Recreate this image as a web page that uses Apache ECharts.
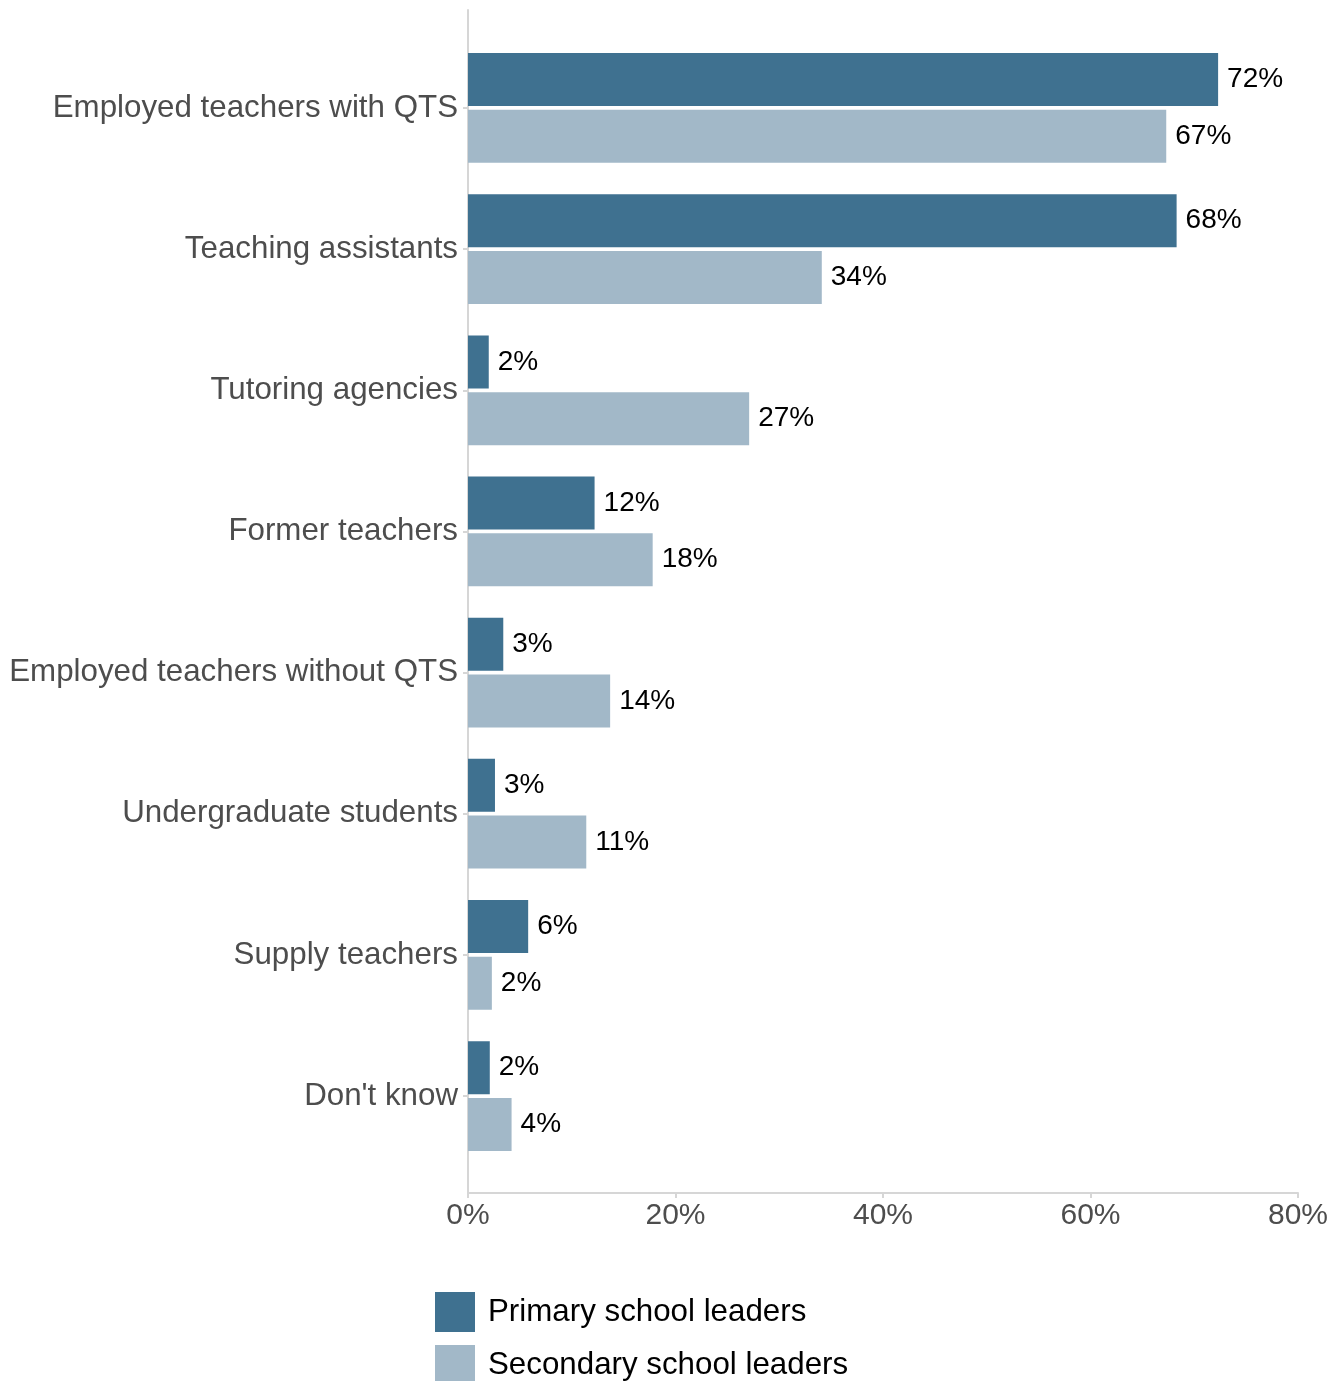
<!DOCTYPE html>
<html>
<head>
<meta charset="utf-8">
<title>Staff used to deliver tutoring</title>
<script src="https://cdn.jsdelivr.net/npm/echarts@6/dist/echarts.min.js"></script>
<style>
  html, body { margin: 0; padding: 0; background: #ffffff; }
  #chart { width: 1344px; height: 1381px; }
</style>
</head>
<body>
<div id="chart"></div>
<script>
// Who delivers tutoring: share of school leaders (%)
const categories = [
  'Employed teachers with QTS',
  'Teaching assistants',
  'Tutoring agencies',
  'Former teachers',
  'Employed teachers without QTS',
  'Undergraduate students',
  'Supply teachers',
  "Don't know"
];
const primaryLeaders = [72.3, 68.3, 2.0, 12.2, 3.4, 2.6, 5.8, 2.1];
const secondaryLeaders = [67.3, 34.1, 27.1, 17.8, 13.7, 11.4, 2.3, 4.2];
const seriesNames = ['Primary school leaders', 'Secondary school leaders'];
const xTicks = [0, 20, 40, 60, 80];

const FONT = '"Liberation Sans", Arial, Helvetica, sans-serif';
const AXIS_GREY = '#d6d6d6';
const TEXT_GREY = '#4d4d4d';
const COLORS = ['#3f7190', '#a2b8c8'];

const chart = echarts.init(document.getElementById('chart'), null, { renderer: 'canvas' });

const valueLabel = {
  show: true,
  position: 'right',
  distance: 9,
  color: '#000',
  fontSize: 28,
  fontFamily: FONT,
  formatter: p => Math.round(p.value) + '%'
};

chart.setOption({
  backgroundColor: '#ffffff',
  animation: false,
  textStyle: { fontFamily: FONT },
  grid: [
    // plotting panel for the bars
    { left: 468, right: 46, top: 37.4, bottom: 214.4, containLabel: false },
    // outer frame carrying the extended axis lines and the value scale
    { left: 468, right: 46, top: 10, bottom: 188, containLabel: false }
  ],
  xAxis: [
    {
      gridIndex: 0, type: 'value', min: xTicks[0], max: xTicks[xTicks.length - 1],
      interval: 20, show: false
    },
    {
      gridIndex: 1, type: 'value', min: xTicks[0], max: xTicks[xTicks.length - 1],
      interval: 20,
      axisLine: { show: true, lineStyle: { color: AXIS_GREY, width: 2 } },
      axisTick: { show: true, length: 5, lineStyle: { color: AXIS_GREY, width: 2 } },
      axisLabel: {
        margin: 8, color: TEXT_GREY, fontSize: 30, fontFamily: FONT,
        formatter: '{value}%'
      },
      splitLine: { show: false }
    }
  ],
  yAxis: [
    {
      gridIndex: 0, type: 'category', data: categories, inverse: true,
      axisLine: { show: false },
      axisTick: { show: true, length: 5, alignWithLabel: true, lineStyle: { color: AXIS_GREY, width: 2 } },
      axisLabel: { margin: 10, color: TEXT_GREY, fontSize: 31.3, fontFamily: FONT }
    },
    {
      gridIndex: 1, type: 'value', min: 0, max: 1,
      axisLine: { show: true, lineStyle: { color: AXIS_GREY, width: 2 } },
      axisTick: { show: false },
      axisLabel: { show: false },
      splitLine: { show: false }
    }
  ],
  legend: {
    orient: 'vertical',
    left: 435,
    top: 1292,
    width: 500,
    height: 120,
    padding: 0,
    itemWidth: 40,
    itemHeight: 40,
    itemGap: 13,
    icon: 'rect',
    data: seriesNames,
    textStyle: { color: '#000', fontSize: 31.3, fontFamily: FONT, padding: [0, 0, 0, 8] }
  },
  series: [
    {
      name: seriesNames[0], type: 'bar', xAxisIndex: 0, yAxisIndex: 0,
      data: primaryLeaders, barWidth: 53, barGap: '7%',
      itemStyle: { color: COLORS[0] },
      label: valueLabel
    },
    {
      name: seriesNames[1], type: 'bar', xAxisIndex: 0, yAxisIndex: 0,
      data: secondaryLeaders, barWidth: 53, barGap: '7%',
      itemStyle: { color: COLORS[1] },
      label: valueLabel
    }
  ]
});
</script>
</body>
</html>
